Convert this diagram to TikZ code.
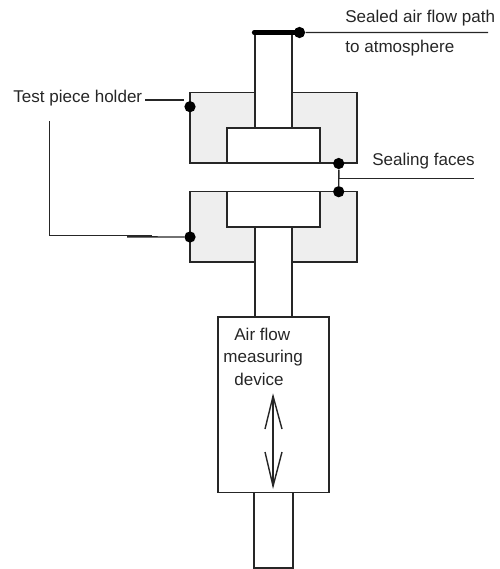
\documentclass[tikz,border=0pt]{standalone}
\usepackage{fontspec}
\setmainfont{Liberation Sans}
\usetikzlibrary{calc,positioning}
\definecolor{holdergrey}{gray}{0.935}
\tikzset{
  part/.style={line width=0.85pt,draw=black!85},
  lead/.style={line width=0.8pt,draw=black!85},
  dot/.style={circle,fill=black,inner sep=0pt,minimum size=0.225cm},
  lbl/.style={inner sep=0pt,font=\fontsize{9.7}{11}\selectfont,text=black!85}
}
\begin{document}
\begin{tikzpicture}[scale=0.02,line join=miter]
  \useasboundingbox (0,0) rectangle (499,-569);
  % holder blocks
  \draw[part,fill=holdergrey] (190,-92.5) rectangle (357,-163);
  \draw[part,fill=holdergrey] (190,-191.7) rectangle (357,-262);
  \draw[part,fill=white] (227,-128) rectangle (320,-163);
  \draw[part,fill=white] (227,-191.7) rectangle (320,-227);
  % tubes
  \draw[part,fill=white] (255,-32.5) rectangle (292,-128);
  \draw[part,fill=white] (255,-227) rectangle (292,-317);
  \draw[part,fill=white] (254,-492.7) rectangle (293,-568);
  \draw[line width=2.4pt,line cap=round] (254,-32.5)--(297,-32.5);
  % measuring device
  \draw[part,fill=white] (218,-317) rectangle (329,-492.7);
  \node[lbl,anchor=base west] (device1) at (234,-340.7) {Air flow};
  \node[lbl,anchor=base west] (device2) at (223,-362.7) {measuring};
  \node[lbl,anchor=base west] (device3) at (234,-385) {device};
  \coordinate (up) at (273,-396);
  \coordinate (down) at (273,-486);
  \draw[lead] (up)--(down);
  \draw[lead] (265,-429)--(up)--(282,-429);
  \draw[lead] (265,-452)--(down)--(282,-452);
  % leaders
  \node[dot] (flowdot) at (299.5,-32.5) {};
  \coordinate (flowend) at (488,-32.5);
  \draw[lead] (flowdot)--(flowend);
  \node[lbl,anchor=base west] (flow1) at (345,-22.5) {Sealed air flow path};
  \node[lbl,anchor=base west] (flow2) at (345,-53) {to atmosphere};
  \node[dot] (faceup) at (338.7,-163.5) {};
  \node[dot] (facelow) at (338.7,-191.7) {};
  \coordinate (facejoin) at (338.7,-178.3);
  \coordinate (faceend) at (474,-178.3);
  \draw[lead] (faceup)--(facelow);
  \draw[lead] (facejoin)--(faceend);
  \node[lbl,anchor=base west] (faces) at (372,-165.6) {Sealing faces};
  \node[lbl,anchor=base west] (holder) at (13,-102) {Test piece holder};
  \node[dot] (holdup) at (190,-106.7) {};
  \node[dot] (holdlow) at (190,-237) {};
  \coordinate (holdstart) at (145,-100);
  \coordinate (holdend) at (184,-100);
  \draw[lead] (holdstart)--(holdend);
  \coordinate (stemtop) at (49.7,-121);
  \coordinate (stemfoot) at (49.7,-235.7);
  \coordinate (stemend) at (152,-235.7);
  \coordinate (stemjoin) at (127,-236.8);
  \draw[lead] (stemtop)--(stemfoot)--(stemend);
  \draw[lead] (stemjoin)--(holdlow);
\end{tikzpicture}
\end{document}
